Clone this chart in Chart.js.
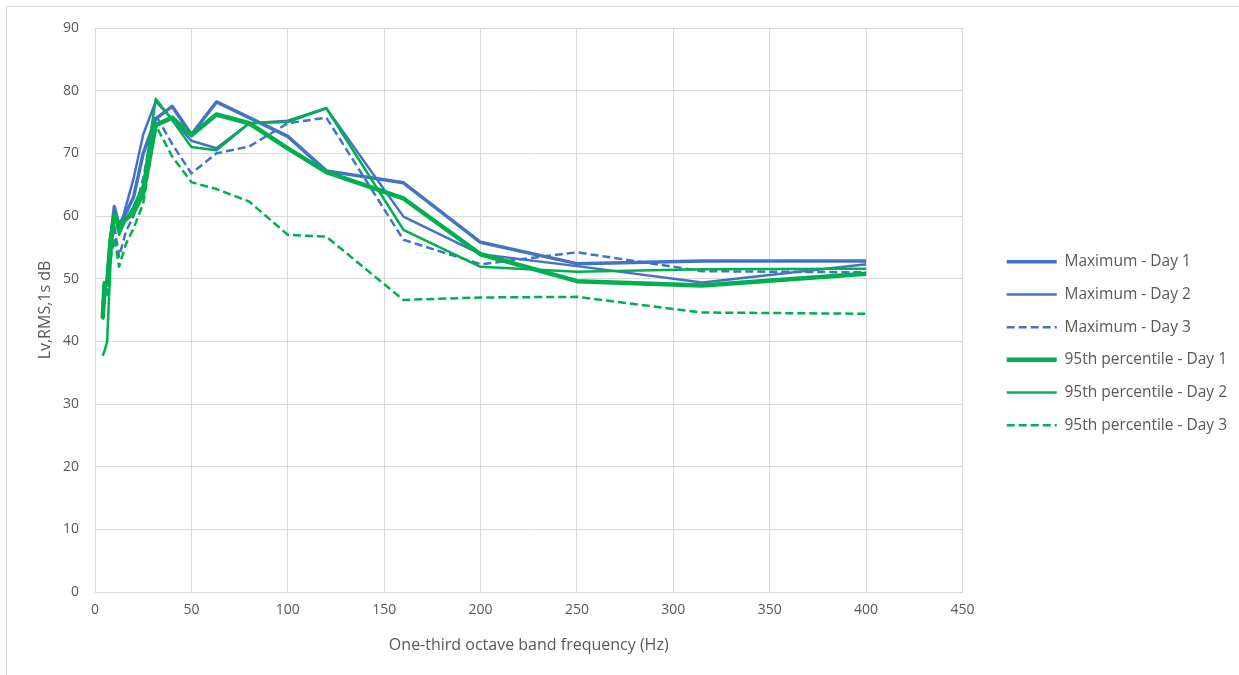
<!DOCTYPE html>
<html>
<head>
<meta charset="utf-8">
<title>Lv,RMS,1s by one-third octave band</title>
<script src="https://cdn.jsdelivr.net/npm/chart.js@4/dist/chart.umd.min.js"></script>
<style>
  html, body { margin: 0; padding: 0; background: #fff; overflow: hidden; }
  #wrap { position: relative; width: 1239px; height: 675px; }
  #frame {
    position: absolute; left: 6px; top: 6px; width: 1260px; height: 700px;
    border: 1px solid #d9d9d9; box-sizing: border-box; pointer-events: none;
  }
</style>
</head>
<body>
<div id="wrap">
  <canvas id="bandChart"></canvas>
  <div id="frame"></div>
</div>
<script>
// One-third octave band centre frequencies (Hz), as plotted
const freqs = [4, 5, 6.3, 8, 10, 12.5, 16, 20, 25, 31.5, 40, 50, 63, 80, 100, 120, 160, 200, 250, 315, 400];

// Lv,RMS,1s dB
const maxDay1 = [45, 49, 49.5, 56, 61.5, 58.5, 60.5, 63, 70, 75.5, 77.5, 73.0, 78.2, 75.7, 72.7, 67.2, 65.3, 55.8, 52.4, 52.8, 52.8];
const maxDay2 = [44, 48.5, 49, 55, 60.5, 57.5, 61.5, 66, 73, 78.3, 75.5, 72.0, 70.8, 74.8, 75.2, 77.2, 59.9, 53.9, 52.0, 49.4, 52.3];
const maxDay3 = [43.5, 48, 48.5, 54, 58.5, 53.5, 57.5, 60, 66, 76.1, 71.5, 66.8, 70.0, 71.1, 74.8, 75.7, 56.2, 52.3, 54.2, 51.2, 51.0];
const p95Day1 = [43.7, 49.3, 49, 56, 60, 58.5, 59.5, 60.5, 63.6, 74.5, 75.7, 72.9, 76.2, 74.8, 70.8, 67.0, 62.8, 53.9, 49.6, 48.9, 50.8];
const p95Day2 = [37.7, 38.5, 40, 52, 60.5, 57, 59.5, 61.5, 65, 78.7, 75.3, 71.0, 70.5, 74.8, 75.0, 77.2, 57.8, 51.9, 51.1, 51.5, 51.6];
const p95Day3 = [43.5, 47, 47.5, 53, 56.5, 51.9, 55.5, 58, 62, 74.5, 69.5, 65.4, 64.3, 62.3, 57.0, 56.7, 46.6, 47.0, 47.1, 44.6, 44.4];

const seriesLabels = [
  'Maximum - Day 1', 'Maximum - Day 2', 'Maximum - Day 3',
  '95th percentile - Day 1', '95th percentile - Day 2', '95th percentile - Day 3',
];
const seriesValues = [maxDay1, maxDay2, maxDay3, p95Day1, p95Day2, p95Day3];

const xTicks = { min: 0, max: 450, step: 50 };
const yTicks = { min: 0, max: 90, step: 10 };

const BLUE = '#4472c4';
const GREEN = '#00b050';
const GRID = '#d9d9d9';
const TEXT = '#595959';
const FONT = "'Open Sans', 'Noto Sans', sans-serif";

// colour / width / dash per series (Excel style: later series on top)
const styles = [
  { color: BLUE, width: 3.5, dash: [] },
  { color: BLUE, width: 2.5, dash: [] },
  { color: BLUE, width: 2.5, dash: [8, 4] },
  { color: GREEN, width: 4.5, dash: [] },
  { color: GREEN, width: 2.5, dash: [] },
  { color: GREEN, width: 2.5, dash: [8, 4] },
];

// Legend sits a little away from the plot area and a bit above centre, like Excel's
const legendShift = {
  id: 'legendShift',
  afterLayout(chart) {
    const lg = chart.legend;
    if (!lg) return;
    lg.left += 27;
    lg.right += 27;
    lg.top -= 8;
    lg.bottom -= 8;
  },
};

const datasets = seriesValues.map((vals, i) => ({
  label: seriesLabels[i],
  data: freqs.map((f, j) => ({ x: f, y: vals[j] })),
  borderColor: styles[i].color,
  backgroundColor: styles[i].color,
  borderWidth: styles[i].width,
  borderDash: styles[i].dash,
  borderJoinStyle: 'round',
  pointRadius: 0,
  tension: 0,
  fill: false,
  order: seriesValues.length - i,
}));

// legend samples: take width and dash from the line itself, keep dataset order
function legendLabels(chart) {
  return Chart.defaults.plugins.legend.labels.generateLabels(chart)
    .sort((a, b) => a.datasetIndex - b.datasetIndex)
    .map((item) => {
      const ds = chart.data.datasets[item.datasetIndex];
      item.lineWidth = ds.borderWidth;
      item.lineDash = ds.borderDash;
      item.strokeStyle = ds.borderColor;
      item.lineCap = 'butt';
      return item;
    });
}

new Chart(document.getElementById('bandChart'), {
  type: 'scatter',
  data: { datasets },
  plugins: [legendShift],
  options: {
    responsive: true,
    maintainAspectRatio: false,
    animation: false,
    showLine: true,
    layout: { padding: { top: 28, right: 29, bottom: 0, left: 0 } },
    scales: {
      x: {
        type: 'linear',
        min: xTicks.min,
        max: xTicks.max,
        ticks: { stepSize: xTicks.step, color: TEXT, font: { family: FONT, size: 14 }, padding: 10 },
        grid: { color: GRID, drawTicks: false },
        border: { color: GRID },
        title: {
          display: true,
          text: 'One-third octave band frequency (Hz)',
          color: TEXT,
          font: { family: FONT, size: 16 },
          padding: { top: 0, bottom: 20 },
        },
        afterFit: (s) => { s.height = 83; },
      },
      y: {
        min: yTicks.min,
        max: yTicks.max,
        ticks: { stepSize: yTicks.step, color: TEXT, font: { family: FONT, size: 14 }, padding: 16 },
        grid: { color: GRID, drawTicks: false },
        border: { color: GRID },
        title: {
          display: true,
          text: 'Lv,RMS,1s dB',
          color: TEXT,
          font: { family: FONT, size: 16 },
          padding: { top: 36, bottom: 0 },
        },
        afterFit: (s) => { s.width = 95; },
      },
    },
    plugins: {
      legend: {
        position: 'right',
        labels: {
          usePointStyle: true,
          pointStyle: 'line',
          pointStyleWidth: 50,
          color: TEXT,
          font: { family: FONT, size: 15.5 },
          padding: 17.2,
          generateLabels: legendLabels,
        },
      },
      tooltip: { enabled: false },
    },
  },
});
</script>
</body>
</html>
